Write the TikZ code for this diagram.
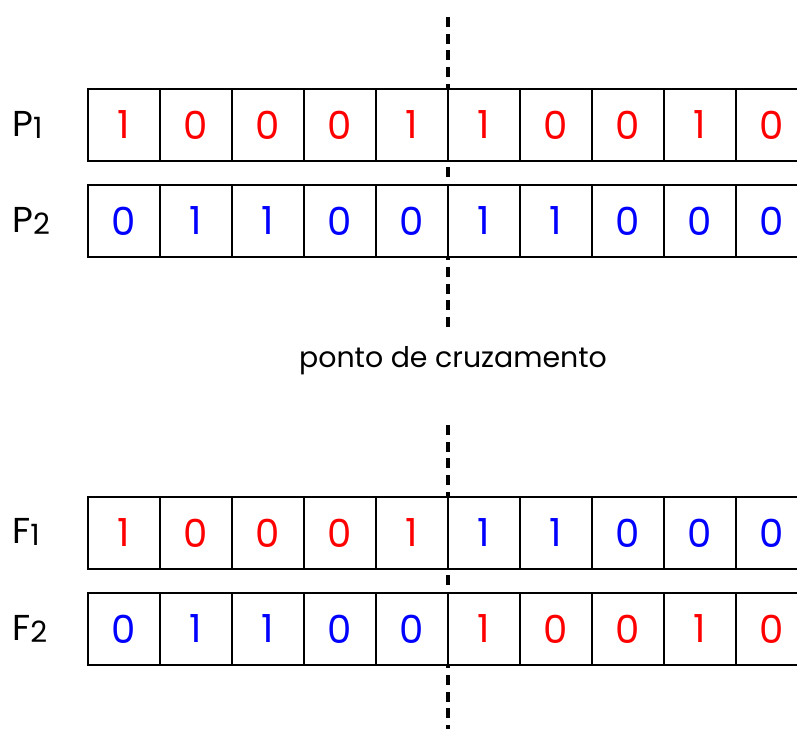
\documentclass[tikz,border=0pt]{standalone}
\usepackage{fontspec}
\setmainfont{Poppins}
\usetikzlibrary{positioning}

\newcommand{\indice}[1]{{\fontsize{22}{22}\selectfont\raisebox{-1.5pt}{#1}}}

\tikzset{
  gene/.style={draw, line width=1.4pt, fill=white, minimum width=54pt, minimum height=54pt,
    inner sep=0pt, outer sep=0pt, font=\fontsize{29}{29}\selectfont},
  corte/.style={line width=2.3pt, dash pattern=on 7.5pt off 5pt},
  rotulo/.style={anchor=base west, inner sep=0pt, font=\fontsize{27}{27}\selectfont},
}

\begin{document}
\begin{tikzpicture}[x=0.75pt, y=-0.75pt]
	\useasboundingbox (0,0) rectangle (797,729);

	% linhas do ponto de cruzamento
	\coordinate (cortePa) at (448,17);
	\coordinate (cortePb) at (448,327);
	\coordinate (corteFa) at (448,425);
	\coordinate (corteFb) at (448,735);
	\draw[corte] (cortePa) -- (cortePb);
	\draw[corte] (corteFa) -- (corteFb);

	% pais
	\foreach \b/\c [count=\i from 0] in {1/red,0/red,0/red,0/red,1/red,1/red,0/red,0/red,1/red,0/red}
		\node[gene, text=\c] (p1-\i) at (124+72*\i,125) {\b};
	\foreach \b/\c [count=\i from 0] in {0/blue,1/blue,1/blue,0/blue,0/blue,1/blue,1/blue,0/blue,0/blue,0/blue}
		\node[gene, text=\c] (p2-\i) at (124+72*\i,221) {\b};

	% filhos
	\foreach \b/\c [count=\i from 0] in {1/red,0/red,0/red,0/red,1/red,1/blue,1/blue,0/blue,0/blue,0/blue}
		\node[gene, text=\c] (f1-\i) at (124+72*\i,533) {\b};
	\foreach \b/\c [count=\i from 0] in {0/blue,1/blue,1/blue,0/blue,0/blue,1/red,0/red,0/red,1/red,0/red}
		\node[gene, text=\c] (f2-\i) at (124+72*\i,629) {\b};

	\node[rotulo] (rotP1) at (12,136) {P\indice{1}};
	\node[rotulo] (rotP2) at (12,232) {P\indice{2}};
	\node[rotulo] (rotF1) at (12,543) {F\indice{1}};
	\node[rotulo] (rotF2) at (12,640) {F\indice{2}};

	\node[anchor=base, inner sep=0pt, font=\fontsize{21.3}{21.3}\selectfont] (legenda) at (453,367) {ponto de cruzamento};
\end{tikzpicture}
\end{document}
